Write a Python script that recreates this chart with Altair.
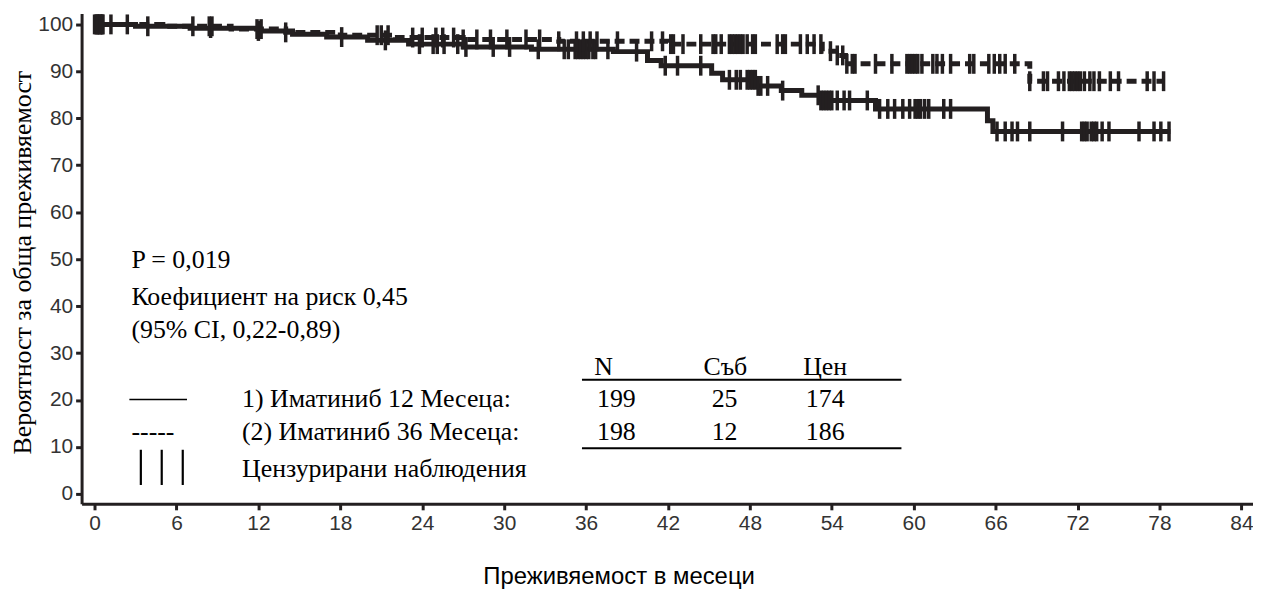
import altair as alt
import pandas as pd

# ---- data ----
# Arm 1: Imatinib 12 months (solid)
arm1_t = [0, 3, 7, 12, 14.5, 17, 20, 23, 27, 32, 38, 40.5, 41.5, 45.2, 46, 48.5, 50.3, 51.8, 53.2, 57.2, 65.4, 65.8, 78.8]
arm1_s = [100, 99.6, 99.2, 98.6, 97.9, 97.3, 96.6, 95.8, 95.2, 94.7, 94.2, 92.3, 91.2, 89.6, 88.2, 86.9, 85.9, 84.9, 83.8, 82.0, 79.5, 77.2, 77.2]
# Arm 2: Imatinib 36 months (dashed)
arm2_t = [0, 5, 10, 14, 18, 22, 27, 34, 42, 53.3, 54.3, 55, 68.5, 78.4]
arm2_s = [100, 99.6, 99.0, 98.3, 97.7, 97.2, 96.8, 96.4, 95.8, 94.3, 93.4, 91.6, 87.9, 87.9]

arm1_cens = [0.0, 0.1, 0.2, 0.3, 0.4, 0.5, 0.6, 1.2, 3.9, 8.5, 12.0, 18.1,
             21.3, 23.8, 24.8, 25.1, 25.6, 26.6, 27.2, 29.2, 30.4, 32.5, 34.4, 34.7, 35.2, 35.4, 35.6, 35.8, 36.0, 36.2,
             36.5, 36.7, 37.6, 39.7, 41.8,
             42.7, 44.4, 46.5, 47.0, 47.3, 47.8, 48.0, 48.2, 48.4, 48.6, 48.8, 49.3, 50.4,
             53.0, 53.2, 53.4, 53.6, 53.8, 54.0, 54.4, 54.9, 55.3, 56.6, 57.5, 58.1, 58.6, 59.2, 59.7, 60.1, 60.3, 60.5,
             60.8, 61.1, 62.2, 62.7,
             66.1, 66.7, 67.2, 67.6, 68.5, 70.9, 72.3, 72.5, 72.7, 73.0, 73.2, 73.4, 73.8, 74.3, 76.5, 77.6, 78.1, 78.7]
arm2_cens = [0.2, 0.4, 0.6, 2.4, 7.2, 8.4, 8.6, 11.9, 12.2, 14.0, 20.7,
             21.0, 21.5, 23.3, 24.0, 25.0, 25.5, 26.3, 27.0, 28.0, 29.0, 30.2, 31.6, 32.6, 34.0, 35.3, 35.8, 36.3, 36.8,
             38.3, 40.8, 41.6, 42.2, 42.4,
             43.1, 44.4, 45.3, 45.5, 45.9, 46.5, 46.7, 46.9, 47.1, 47.3, 47.5, 47.8, 48.2, 48.4, 50.0, 50.4, 50.6, 51.7,
             52.2, 52.7, 53.2,
             53.9, 54.4, 54.8, 55.1, 55.5, 55.7, 57.2, 58.4, 59.5, 59.7, 59.9, 60.1, 60.3, 60.6, 61.4, 61.7, 62.1, 62.7,
             64.1, 64.4,
             65.5, 65.9, 66.3, 66.7, 67.4, 68.5, 69.5, 69.8, 70.6, 71.0, 71.4, 71.6, 71.8, 72.0, 72.2, 72.5, 72.9, 73.2,
             73.6, 74.4, 75.0, 77.1, 77.6, 78.3]

x_ticks = list(range(0, 85, 6))
y_ticks = list(range(0, 101, 10))

# annotation texts (serif)
ann_labels = ["P = 0,019", "Коефициент на риск 0,45", "(95% CI, 0,22-0,89)",
              "N", "Съб", "Цен",
              "1) Иматиниб 12 Месеца:", "199", "25", "174",
              "-----", "(2) Иматиниб 36 Месеца:", "198", "12", "186",
              "Цензурирани наблюдения"]
ann_x = [2.7, 2.7, 2.7,
         36.6, 44.6, 51.9,
         10.8, 36.8, 45.2, 52.1,
         2.7, 10.8, 36.8, 45.2, 52.1,
         10.8]
ann_y = [49.8, 42.0, 35.0,
         27.0, 27.0, 27.0,
         20.1, 20.1, 20.1, 20.1,
         13.1, 13.1, 13.1, 13.1, 13.1,
         5.3]

# table / legend rules: x, x2, y, y2
rule_x = [35.7, 35.7, 2.55, 3.39, 4.92, 6.46]
rule_x2 = [59.1, 59.1, 6.77, 3.39, 4.92, 6.46]
rule_y = [24.3, 9.7, 20.1, 9.4, 9.4, 9.4]
rule_y2 = [24.3, 9.7, 20.1, 1.9, 1.9, 1.9]
rule_w = [2, 2, 1.5, 2.2, 2.2, 2.2]

INK = "#231f20"


def surv(ts, ss, t):
    v = ss[0]
    for ti, si in zip(ts, ss):
        if ti <= t:
            v = si
    return v


df1 = pd.DataFrame({"t": arm1_t, "s": arm1_s})
df2 = pd.DataFrame({"t": arm2_t, "s": arm2_s})
c1 = pd.DataFrame({"t": arm1_cens, "s": [surv(arm1_t, arm1_s, t) for t in arm1_cens]})
c2 = pd.DataFrame({"t": arm2_cens, "s": [surv(arm2_t, arm2_s, t) for t in arm2_cens]})
ann = pd.DataFrame({"x": ann_x, "y": ann_y, "label": ann_labels})
rules = pd.DataFrame({"x": rule_x, "x2": rule_x2, "y": rule_y, "y2": rule_y2, "w": rule_w})

xscale = alt.Scale(domain=[-0.95, 84.85], nice=False, zero=False)
yscale = alt.Scale(domain=[-2.12, 102.3], nice=False, zero=False)

xaxis = alt.Axis(values=x_ticks, title="Преживяемост в месеци", grid=False,
                 titleFont="Liberation Sans", titleFontSize=24, titleFontWeight="normal",
                 titleColor="#000", titleX=540, titleY=73, titleBaseline="middle",
                 titleAnchor="start", titleAlign="center")
yaxis = alt.Axis(values=y_ticks, title="Вероятност за обща преживяемост", grid=False,
                 titleFont="Liberation Serif", titleFontSize=26, titleFontWeight="normal",
                 titleColor="#000", titleX=-59, titleY=250, titleBaseline="middle",
                 titleAlign="center", titleAngle=-90)

X = alt.X("t:Q", scale=xscale, axis=xaxis)
Y = alt.Y("s:Q", scale=yscale, axis=yaxis)

line1 = alt.Chart(df1).mark_line(interpolate="step-after", strokeWidth=5, color=INK).encode(x=X, y=Y)
line2 = alt.Chart(df2).mark_line(interpolate="step-after", strokeWidth=5, color=INK,
                                 strokeDash=[10, 5]).encode(
    x=alt.X("t:Q", scale=xscale), y=alt.Y("s:Q", scale=yscale))
cen1 = alt.Chart(c1).mark_tick(orient="vertical", size=20, thickness=3.5, color=INK, opacity=1).encode(
    x=alt.X("t:Q", scale=xscale), y=alt.Y("s:Q", scale=yscale))
cen2 = alt.Chart(c2).mark_tick(orient="vertical", size=20, thickness=3.5, color=INK, opacity=1).encode(
    x=alt.X("t:Q", scale=xscale), y=alt.Y("s:Q", scale=yscale))

texts = alt.Chart(ann).mark_text(align="left", baseline="middle", font="Liberation Serif",
                                 fontSize=26, color="#000").encode(
    x=alt.X("x:Q", scale=xscale), y=alt.Y("y:Q", scale=yscale), text="label:N")

rl = alt.Chart(rules).mark_rule(color="#000").encode(
    x=alt.X("x:Q", scale=xscale), x2="x2:Q",
    y=alt.Y("y:Q", scale=yscale), y2="y2:Q",
    strokeWidth=alt.StrokeWidth("w:Q", scale=None, legend=None))

chart = alt.layer(line1, line2, cen1, cen2, rl, texts).properties(
    width=1178, height=493,
    autosize=alt.AutoSizeParams(type="none"),
    padding={"left": 74, "top": 4, "right": 0, "bottom": 85},
).configure_view(stroke=None).configure_axis(
    domainColor=INK, domainWidth=3, tickColor=INK, tickWidth=3, tickSize=6,
    labelFont="Liberation Sans", labelFontSize=21, labelColor="#333", labelPadding=3,
)

chart.save("out.html", embed_options={"renderer": "svg", "actions": False})
